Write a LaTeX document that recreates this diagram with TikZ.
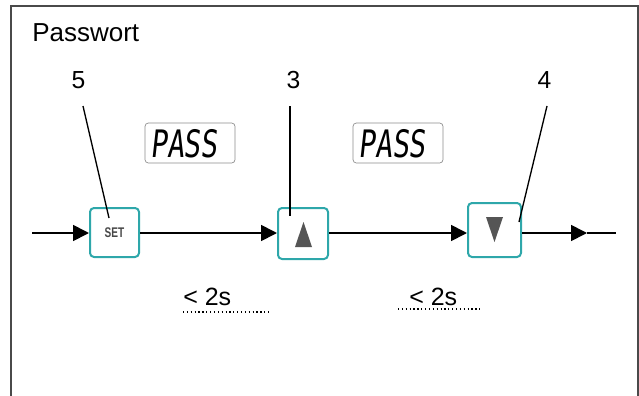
\documentclass[tikz,border=0pt]{standalone}
\usepackage{fontspec}
\usepackage{graphicx}
\setmainfont{Liberation Sans}
\newfontfamily\segfont[FakeSlant=0.15]{DejaVu Sans Mono}
\usetikzlibrary{arrows.meta}
\definecolor{teal1}{HTML}{2EA7AA}
\definecolor{framec}{HTML}{4A4A4A}
\definecolor{trig}{HTML}{555555}
\definecolor{dispc}{HTML}{8A8A8A}
\tikzset{
  keybox/.style={draw=teal1, line width=1.5pt, rounded corners=3pt, fill=white, inner sep=0pt},
  disp/.style={draw=dispc, line width=0.5pt, rounded corners=2.5pt, minimum width=67.5pt, minimum height=30pt, inner sep=0pt},
  flow/.style={line width=1.3pt, -{Triangle[length=12pt,width=12pt]}},
  plain/.style={line width=1.3pt},
  leader/.style={line width=1pt},
  num/.style={font=\fontsize{18.5}{20}\selectfont, inner sep=0pt, anchor=base},
  tlab/.style={font=\fontsize{18.75}{20}\selectfont, inner sep=0pt, anchor=base west},
  tmark/.style={line width=0.9pt, dotted}
}
\newcommand\passtxt{\scalebox{0.78}[1.05]{\segfont\fontsize{27}{30}\selectfont PASS}}
\begin{document}
\begin{tikzpicture}[x=0.75pt,y=-0.75pt]
\useasboundingbox (0,0) rectangle (639,396);
% frame
\draw[framec, line width=1.2pt] (11,396) -- (11,6) -- (638,6) -- (638,396);
\node[inner sep=0pt, anchor=base west, font=\fontsize{19.5}{22}\selectfont] (title) at (32,41.5) {Passwort};

% keys
\node[keybox, minimum width=36.75pt, minimum height=36.75pt] (set) at (114.5,232.5) {\scalebox{0.72}[1]{\fontsize{10.5}{11}\selectfont\bfseries\color{trig!85!black}SET}};
\node[keybox, minimum width=37.5pt, minimum height=38.25pt] (up) at (303,233.5) {};
\node[keybox, minimum width=39.75pt, minimum height=40.5pt] (down) at (494.5,230) {};
\fill[trig] (295,247) -- (303.5,222) -- (312,247) -- cycle;
\fill[trig] (486,217) -- (503,217) -- (494.5,242) -- cycle;

% displays
\node[disp, text depth=0pt] (d1) at (190,143) {\hspace*{-9pt}\passtxt};
\node[disp, text depth=0pt] (d2) at (398,143) {\hspace*{-9pt}\passtxt};

% numbers
\node[num] (n5) at (78.5,88) {5};
\node[num] (n3) at (293.5,88) {3};
\node[num] (n4) at (544.5,88) {4};
\coordinate (l5a) at (83,106);  \coordinate (l5b) at (109,218);
\coordinate (l3a) at (290,106); \coordinate (l3b) at (290,216);
\coordinate (l4a) at (547,106); \coordinate (l4b) at (519,222);
\draw[leader] (l5a) -- (l5b);
\draw[leader] (l3a) -- (l3b);
\draw[leader] (l4a) -- (l4b);

% flow
\coordinate (start) at (32,233);
\coordinate (mid) at (587,233);
\coordinate (fin) at (616,233);
\draw[flow] (start) -- (start -| set.west);
\draw[flow] (set.east |- start) -- (start -| up.west);
\draw[flow] (up.east |- start) -- (start -| down.west);
\draw[flow] (down.east |- start) -- (mid);
\draw[plain] (mid) -- (fin);

% time labels
\node[tlab] (t1) at (183,305) {< 2s};
\node[tlab] (t2) at (409,305) {< 2s};
\coordinate (u1a) at (183,312); \coordinate (u1b) at (269,312);
\coordinate (u2a) at (398,309); \coordinate (u2b) at (483,309);
\draw[tmark] (u1a) -- (u1b);
\draw[tmark] (u2a) -- (u2b);
\end{tikzpicture}
\end{document}
